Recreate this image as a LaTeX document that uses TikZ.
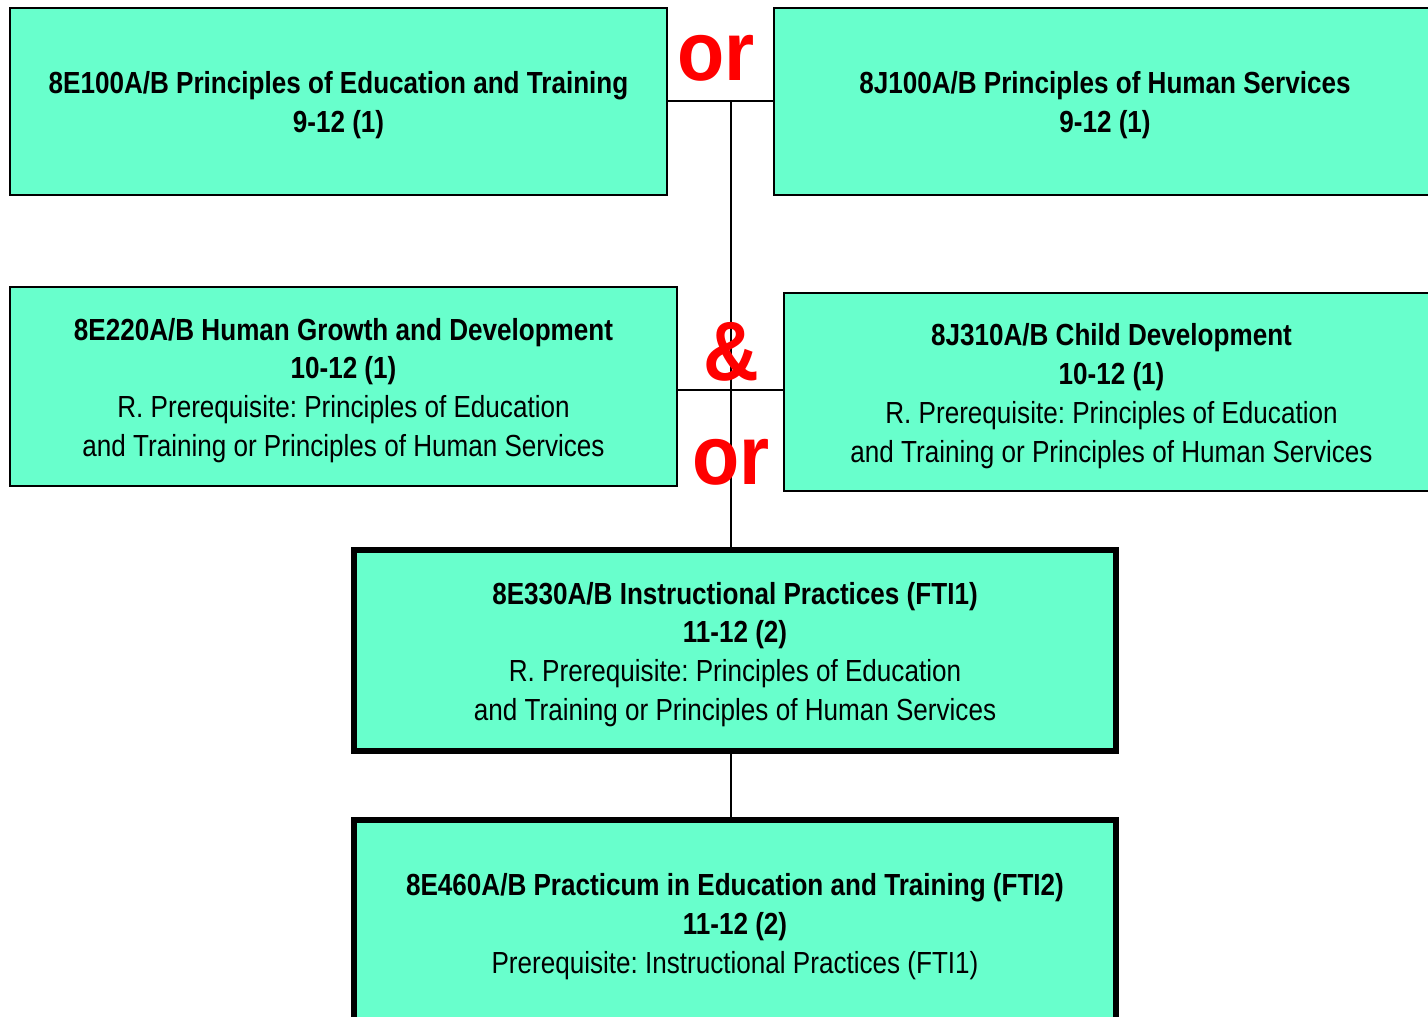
\documentclass[tikz,border=0pt]{standalone}
\usepackage{fontspec}
\setmainfont{Liberation Sans}[FakeStretch=0.855]
\newfontfamily\joinfont{Liberation Sans}[FakeStretch=0.92]
\frenchspacing
\definecolor{mint}{RGB}{104,255,204}
\definecolor{orred}{RGB}{255,0,0}
\tikzset{
  course/.style={draw=black, line width=2pt, fill=mint, align=center,
    inner sep=0pt, font=\fontsize{30.5}{38.8}\selectfont},
  corecourse/.style={course, line width=6pt},
  joiner/.style={text=orred, inner sep=0pt, font=\joinfont\bfseries\fontsize{84}{84}\selectfont},
  link/.style={draw=black, line width=2.5pt}
}
% first line with a taller strut, to sit the text a bit lower
\newcommand{\topline}[1]{\rule{0pt}{30pt}\textbf{#1}}
\begin{document}
\begin{tikzpicture}[x=1pt,y=-1pt]
    \useasboundingbox (0,0) rectangle (1428,1017);
    % First year
    \node[course, minimum width=657pt, minimum height=187pt] (edu) at (338.5,101.5)
        {\topline{8E100A/B Principles of Education and Training}\\ \textbf{9-12 (1)}};
    \node[course, minimum width=662pt, minimum height=187pt] (hum) at (1105,101.5)
        {\topline{8J100A/B Principles of Human Services}\\ \textbf{9-12 (1)}};
    % Second year
    \node[course, minimum width=667pt, minimum height=199pt] (growth) at (343.5,386.5)
        {\topline{8E220A/B Human Growth and Development}\\ \textbf{10-12 (1)}\\
         R. Prerequisite: Principles of Education\\ and Training or Principles of Human Services};
    \node[course, minimum width=655pt, minimum height=198pt] (child) at (1111.5,392)
        {\topline{8J310A/B Child Development}\\ \textbf{10-12 (1)}\\
         R. Prerequisite: Principles of Education\\ and Training or Principles of Human Services};
    % Third and fourth year
    \node[corecourse, minimum width=762pt, minimum height=201pt] (instr) at (735,650.5)
        {\topline{8E330A/B Instructional Practices (FTI1)}\\ \textbf{11-12 (2)}\\
         R. Prerequisite: Principles of Education\\ and Training or Principles of Human Services};
    \node[corecourse, minimum width=762pt, minimum height=205pt] (pract) at (735,922.5)
        {\topline{8E460A/B Practicum in Education and Training (FTI2)}\\ \textbf{11-12 (2)}\\
         Prerequisite: Instructional Practices (FTI1)};
    % Junctions
    \coordinate (orj) at (731,101);
    \coordinate (andj) at (731,390);
    \draw[link] (edu.east |- orj) -- (hum.west |- orj);
    \draw[link] (orj) -- (orj |- instr.north);
    \draw[link] (growth.east |- andj) -- (child.west |- andj);
    \draw[link] (instr.south -| orj) -- (pract.north -| orj);
    % Red joiners
    \node[joiner] (ortop) at (716,58) {or};
    \node[joiner] (amp) at (731,352) {\&};
    \node[joiner] (ormid) at (731,462) {or};
\end{tikzpicture}
\end{document}
